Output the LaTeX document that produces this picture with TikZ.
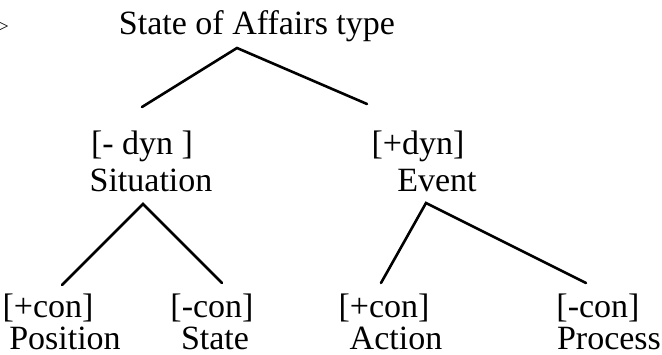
\documentclass[tikz,border=0pt]{standalone}
\usepackage{fontspec}
\setmainfont{Liberation Serif}
\begin{document}
\begin{tikzpicture}[x=1pt,y=-1pt,
  lbl/.style={anchor=base,inner sep=0pt,text depth=0pt,font=\fontsize{34}{40}\selectfont},
  edge/.style={line width=2.6pt,line cap=round}]
\useasboundingbox (0,0) rectangle (662,355);
\node[anchor=east,inner sep=0pt,font=\fontsize{18}{20}\selectfont] (arr) at (9,27) {>};
\node[lbl] (soa) at (257,35) {State of Affairs type};
\node[lbl] (mdyn) at (142,155) {[- dyn ]};
\node[lbl] (sit) at (151,192) {Situation};
\node[lbl] (pdyn) at (418,155) {[+dyn]};
\node[lbl] (evt) at (437,192) {Event};
\node[lbl] (pcon1) at (48,318) {[+con]};
\node[lbl] (pos) at (65,350) {Position};
\node[lbl] (mcon1) at (212,318) {[-con]};
\node[lbl] (sta) at (215,350) {State};
\node[lbl] (pcon2) at (384,318) {[+con]};
\node[lbl] (act) at (396,350) {Action};
\node[lbl] (mcon2) at (598,318) {[-con]};
\node[lbl] (pro) at (609,350) {Process};
\coordinate (a0) at (237,48);
\coordinate (a0l) at (142,107);
\coordinate (a0r) at (367,104);
\coordinate (a1) at (143,204);
\coordinate (a1l) at (62,285);
\coordinate (a1r) at (222,283);
\coordinate (a2) at (426,203);
\coordinate (a2l) at (381,283);
\coordinate (a2r) at (586,283);
\draw[edge] (a0l) -- (a0) -- (a0r);
\draw[edge] (a1l) -- (a1) -- (a1r);
\draw[edge] (a2l) -- (a2) -- (a2r);
\end{tikzpicture}
\end{document}
